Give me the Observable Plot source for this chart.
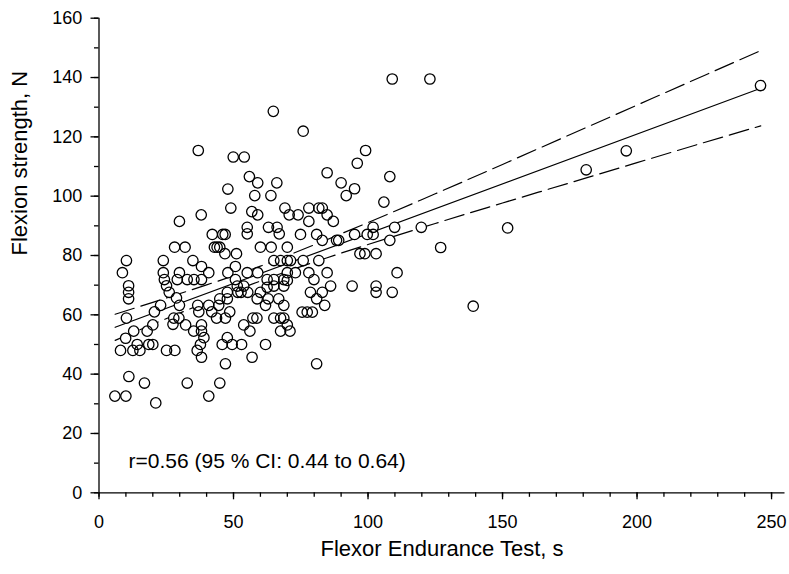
<!DOCTYPE html>
<html><head><meta charset="utf-8">
<script src="https://cdn.jsdelivr.net/npm/d3@7"></script>
<script src="https://cdn.jsdelivr.net/npm/@observablehq/plot@0.6"></script>
<style>html,body{margin:0;padding:0;background:#fff;} svg{display:block}</style>
</head><body><div id="chart"></div>
<script>
// Flexor Endurance Test (s)
const endurance = [
64.8,36.9,49.9,54.0,55.9,59.0,66.1,47.9,57.9,63.9,69.1,70.7,49.0,56.8,59.0,38.0,29.9,55.1,55.1,63.0,66.2,67.0,42.1,46.0,46.9,
75.9,109.0,123.0,84.8,96.0,99.1,108.1,90.0,95.0,91.9,105.9,74.0,78.0,81.7,83.0,84.8,87.1,78.0,74.9,80.9,83.0,88.3,89.1,95.0,99.7,101.9,101.9,109.9,108.1,119.8,
245.9,196.0,181.1,151.9,127.0,139.1,
28.1,32.0,42.9,43.9,44.9,
46.8,10.2,23.9,34.9,38.1,40.8,8.7,23.9,29.9,24.3,29.1,32.8,35.3,38.1,47.9,11.0,11.0,11.0,25.1,26.1,28.8,22.9,20.6,29.9,27.8,29.7,36.7,37.1,40.8,41.9,44.5,44.9,47.7,48.6,43.7,47.0,47.7,
10.2,12.9,9.9,20.0,17.9,8.0,12.6,14.2,15.2,18.5,20.0,25.1,28.2,32.2,35.2,38.1,38.1,39.0,37.7,38.1,45.8,47.7,47.0,11.1,16.9,32.8,44.9,5.9,10.0,40.8,21.1,
27.5,36.5,
60.0,64.0,70.0,51.1,65.0,67.5,70.0,71.2,75.9,81.7,97.0,98.8,103.0,50.7,55.1,59.0,50.7,62.5,65.0,68.7,70.0,73.0,70.0,78.0,79.9,84.8,86.1,83.0,78.6,80.9,83.9,94.1,103.0,103.0,109.0,110.8,
51.4,53.8,51.6,52.8,55.3,60.0,58.8,62.9,61.9,66.8,68.7,53.8,56.1,57.2,58.7,65.0,67.5,68.7,70.0,67.5,71.0,75.5,77.4,79.3,49.5,53.0,61.9,56.9,80.9,
65.0,68.7,62.5
];
// Flexion strength (N)
const strength = [
128.6,115.4,113.2,113.2,106.6,104.5,104.5,102.4,100.2,100.2,96.0,93.7,96.0,94.8,93.7,93.7,91.5,89.5,87.3,89.5,89.5,87.3,87.1,87.1,87.1,
121.9,139.5,139.5,107.9,111.1,115.4,106.6,104.5,102.5,100.2,98.0,93.7,96.0,96.0,96.0,93.7,91.5,91.5,87.1,87.1,85.1,85.1,85.1,87.1,87.1,87.1,89.5,89.5,85.1,89.5,
137.3,115.3,108.9,89.3,82.7,62.9,
82.8,82.8,82.8,82.8,82.8,
80.6,78.3,78.3,78.3,76.3,74.2,74.2,74.2,74.2,71.9,71.9,71.9,71.9,71.9,74.2,69.8,67.6,65.4,69.8,67.6,65.7,63.2,61.0,63.2,58.9,58.9,63.2,61.0,63.2,61.0,63.2,65.4,65.4,61.0,58.9,58.9,67.6,
58.9,54.5,52.1,56.6,54.5,48.0,48.0,50.0,48.0,50.0,50.0,48.0,48.0,56.6,54.5,56.6,54.5,52.3,50.0,45.7,50.0,52.3,43.5,39.2,37.0,37.0,37.0,32.6,32.6,32.6,30.3,
56.8,48.0,
82.8,82.8,82.8,80.6,78.3,78.3,78.3,78.3,78.3,78.3,80.6,80.6,80.6,76.3,74.2,74.2,71.9,71.9,71.9,71.9,74.2,74.2,71.6,74.2,71.9,74.2,69.7,67.6,67.6,65.4,63.2,69.7,69.7,67.6,67.6,74.2,
69.7,69.7,67.6,67.6,67.6,67.6,65.4,65.4,63.2,65.4,63.2,56.6,54.5,58.9,58.9,58.9,58.9,58.9,56.6,54.5,54.5,60.9,60.9,60.9,50.0,50.0,50.0,45.7,43.5,
69.7,69.7,69.3
];
// regression line and 95% confidence limits
const fitX = [6, 246];
const fitY = [55.8, 136.4];
const ciX = [6, 20, 40, 60, 80, 100, 125, 150, 175, 200, 225, 246];
const ciUpper = [60.2, 64.2, 70.1, 76.4, 83.6, 91.1, 100.8, 110.7, 120.7, 130.7, 140.7, 149.1];
const ciLower = [51.4, 56.8, 64.3, 71.4, 77.8, 83.7, 90.8, 97.7, 104.5, 111.3, 118.1, 123.7];
// ticks & texts
const xTicks = [0, 50, 100, 150, 200, 250];
const xMinorTicks = [0,10,20,30,40,50,60,70,80,90,100,110,120,130,140,150,160,170,180,190,200,210,220,230,240,250];
const yTicks = [0, 20, 40, 60, 80, 100, 120, 140, 160];
const yMinorTicks = [0,10,20,30,40,50,60,70,80,90,100,110,120,130,140,150,160];
const xLabel = "Flexor Endurance Test, s";
const yLabel = "Flexion strength, N";
const annotation = "r=0.56 (95 % CI: 0.44 to 0.64)";

const points = endurance.map((x, i) => ({x, y: strength[i]}));
const fit = fitX.map((x, i) => ({x, y: fitY[i]}));
const ci = ciX.map((x, i) => ({x, upper: ciUpper[i], lower: ciLower[i]}));

const chart = Plot.plot({
  width: 789, height: 574,
  marginLeft: 98.5, marginRight: 4.5, marginTop: 17.7, marginBottom: 81.7,
  x: {domain: [0, 255]},
  y: {domain: [0, 160]},
  style: {fontFamily: "'Liberation Sans', Arial, sans-serif", fontSize: "18px", color: "#000", background: "#fff", overflow: "visible"},
  marks: [
    Plot.line(fit, {x: "x", y: "y", stroke: "#000", strokeWidth: 1.2}),
    Plot.line(ci, {x: "x", y: "upper", curve: "natural", stroke: "#000", strokeWidth: 1.2, strokeDasharray: "20,7"}),
    Plot.line(ci, {x: "x", y: "lower", curve: "natural", stroke: "#000", strokeWidth: 1.2, strokeDasharray: "20,7"}),
    Plot.dot(points, {x: "x", y: "y", r: 5.2, fill: "#fff", stroke: "none"}),
    Plot.dot(points, {x: "x", y: "y", r: 5.2, fill: "none", stroke: "#000", strokeWidth: 1.3}),
    Plot.ruleY([0], {stroke: "#000", strokeWidth: 1.3}),
    Plot.ruleX([0], {stroke: "#000", strokeWidth: 1.3}),
    Plot.axisX({ticks: xTicks, tickSize: 7, tickPadding: 15, fontSize: 18, strokeWidth: 1.3, label: null}),
    Plot.axisX({ticks: xMinorTicks, tickSize: 4.5, tickFormat: () => "", strokeWidth: 1.3, label: null}),
    Plot.axisY({ticks: yTicks, tickSize: 8, tickPadding: 8.8, fontSize: 18, strokeWidth: 1.3, label: null}),
    Plot.axisY({ticks: yMinorTicks, tickSize: 4.5, tickFormat: () => "", strokeWidth: 1.3, label: null}),
    Plot.text([xLabel], {frameAnchor: "bottom", dy: 63, fontSize: 22}),
    Plot.text([yLabel], {frameAnchor: "left", dx: -79, rotate: -90, fontSize: 22}),
    Plot.text([annotation], {frameAnchor: "bottom-left", dx: 29.5, dy: -25, textAnchor: "start", fontSize: 21})
  ]
});
document.getElementById("chart").appendChild(chart);
</script>
</body></html>
